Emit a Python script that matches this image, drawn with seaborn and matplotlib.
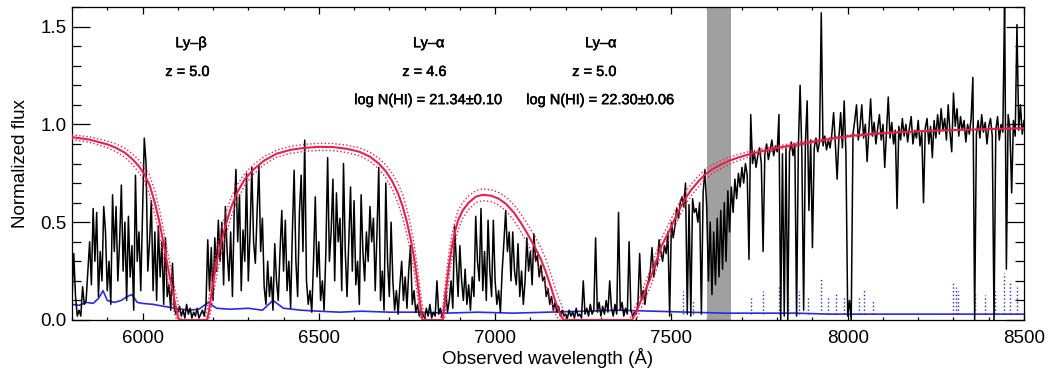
import numpy as np
import pandas as pd
import matplotlib
matplotlib.use("Agg")
import matplotlib.pyplot as plt
import matplotlib.patheffects as pe
from matplotlib.ticker import MultipleLocator, FormatStrFormatter
import seaborn as sns

# ---------------------------------------------------------------- spectrum
# Normalized flux on a 5 A grid, stored in pieces: (start wavelength, values)
flux_lyb_forest = [
    0.10, 0.34, 0.12, 0.02, 0.05, 0.02, 0.17, 0.08, 0.10, 0.25,
    0.40, 0.18, 0.57, 0.30, 0.55, 0.12, 0.35, 0.20, 0.58, 0.45,
    0.15, 0.30, 0.08, 0.64, 0.35, 0.58, 0.20, 0.40, 0.69, 0.25,
    0.50, 0.10, 0.53, 0.22, 0.38, 0.05, 0.74, 0.30, 0.45, 0.15,
    0.55, 0.93, 0.80, 0.25, 0.40, 0.61, 0.15, 0.45, 0.10, 0.48,
    0.22, 0.40, 0.08, 0.42, 0.12, 0.18, 0.05, 0.29, 0.06, 0.03]
flux_lyb_trough = [
    0.04, 0.07, 0.02, 0.05, 0.01, 0.08, 0.03, 0.06, 0.01, 0.04,
    0.02, 0.06, 0.01, 0.03, 0.05, 0.02, 0.08]
flux_forest_a = [
    0.41, 0.15, 0.37, 0.10, 0.42, 0.25, 0.51, 0.30, 0.50, 0.18,
    0.58, 0.35, 0.20, 0.45, 0.12, 0.55, 0.77, 0.40, 0.64, 0.15,
    0.46, 0.30, 0.75]
flux_forest_b = [
    0.20, 0.45, 0.78, 0.40, 0.29, 0.55, 0.79, 0.35, 0.52, 0.17,
    0.08, 0.30, 0.12, 0.22, 0.05, 0.39, 0.20, 0.10, 0.35, 0.56,
    0.25, 0.51, 0.15, 0.30, 0.06, 0.45, 0.765, 0.30, 0.12, 0.55,
    0.74, 0.35, 0.92, 0.20, 0.08, 0.15, 0.04, 0.30, 0.63, 0.22,
    0.40, 0.10, 0.20, 0.05, 0.35, 0.83, 0.30, 0.45, 0.72, 0.20,
    0.65, 0.40, 0.52, 0.15, 0.80, 0.35, 0.12, 0.40, 0.68, 0.25,
    0.61, 0.18, 0.30, 0.08, 0.64, 0.35, 0.20, 0.45, 0.30, 0.58,
    0.40, 0.52, 0.15, 0.45, 0.78, 0.10, 0.25, 0.05, 0.70, 0.30,
    0.12, 0.50, 0.20, 0.05, 0.15, 0.03, 0.18, 0.30, 0.10, 0.22,
    0.06, 0.25, 0.38, 0.08, 0.15, 0.04, 0.08, 0.02, 0.05, 0.03]
flux_dla1_core = [
    0.01, 0.06, 0.02, 0.08, 0.01, 0.04, 0.02, 0.20, 0.03, 0.06,
    0.01, 0.05]
flux_forest_c = [
    0.15, 0.04, 0.10, 0.20, 0.06, 0.48, 0.30, 0.12, 0.38, 0.20,
    0.10, 0.26, 0.08, 0.18, 0.05, 0.22, 0.12, 0.53, 0.30, 0.20,
    0.57, 0.15, 0.35, 0.10, 0.51, 0.25, 0.12, 0.51, 0.20, 0.08,
    0.15, 0.04, 0.25, 0.40, 0.56, 0.35, 0.45, 0.20, 0.45, 0.25,
    0.18, 0.39, 0.12, 0.25, 0.08, 0.20, 0.42, 0.25, 0.35, 0.18,
    0.44, 0.30, 0.33, 0.22, 0.28, 0.20, 0.22, 0.12, 0.16, 0.08,
    0.12, 0.05, 0.09, 0.04, 0.07, 0.02, 0.05, 0.02]
flux_dla2_core = [
    0.03, 0.01, 0.05, 0.02, 0.04, 0.01, 0.06, 0.02, 0.03, 0.01,
    0.20, 0.03, 0.06, 0.02, 0.08, 0.03, 0.05, 0.42, 0.04, 0.09,
    0.02, 0.07, 0.03, 0.10, 0.04, 0.20, 0.06, 0.02, 0.08, 0.03,
    0.55, 0.05, 0.09, 0.02, 0.06, 0.03, 0.40, 0.05, 0.02, 0.04]
flux_dla2_wing = [
    0.03, 0.08, 0.34, 0.10, 0.15, 0.08, 0.17, 0.20, 0.25, 0.37,
    0.22, 0.30, 0.28, 0.41, 0.35, 0.30, 0.38, 0.34, 0.45, 0.02,
    0.50, 0.42, 0.48, 0.57, 0.52, 0.60, 0.63, 0.58, 0.70, 0.03,
    0.59, 0.02, 0.62, 0.55, 0.57, 0.50, 0.60, 0.03, 0.65, 0.77]
flux_a_band = [
    0.58, 0.20, 0.50, 0.13, 0.45, 0.18, 0.52, 0.22, 0.56, 0.26,
    0.60, 0.30, 0.66, 0.45]
flux_red_a = [
    0.68, 0.55, 0.72, 0.62, 0.75, 0.68, 0.78, 0.70, 0.80, 0.74,
    0.31, 1.05]
flux_red_b = [
    0.80, 0.86, 0.78, 0.84, 0.88, 0.80, 0.35, 0.85, 0.90, 0.82,
    0.87, 0.92, 0.84, 0.89, 0.86, 1.05, 0.00, 0.85, 0.02, 0.88,
    0.00, 0.86, 0.91, 0.84, 0.90, 0.02, 0.88, 1.20, 0.85, 0.05,
    0.90, 1.12, 0.56, 0.92, 0.37, 0.88, 0.93, 0.86, 0.91, 1.57,
    0.89, 0.94, 0.87, 0.92, 0.88, 0.95, 1.06, 0.90, 0.72, 0.93,
    1.06, 0.88, 1.12, 0.85]
flux_red_c = [0.02, 0.10, 0.00]
flux_red_d = [
    0.95, 1.02, 1.10, 0.92, 0.99, 1.10, 0.93, 1.00, 0.81, 0.97,
    1.13, 0.94, 1.01, 0.90, 0.98, 1.05, 0.92, 1.00, 0.78, 0.96,
    1.14, 0.93, 1.01, 0.90, 0.97, 0.57, 0.99, 0.92, 1.03, 0.94,
    1.00, 0.91, 0.98, 1.04, 0.90, 0.97, 0.93, 1.02, 0.89, 0.96,
    0.60, 0.98, 1.03, 0.90, 0.99, 0.83, 1.02, 0.93, 1.05, 0.95,
    1.08, 0.97, 1.03, 0.92, 1.10, 0.96, 0.86, 1.16, 0.99, 1.08,
    0.94, 1.04, 0.97, 1.02, 0.91, 1.00, 0.95, 1.03, 1.24, 0.00,
    0.95, 1.02, 0.93, 1.05, 0.96, 1.01, 0.90, 0.99, 1.03, 0.94,
    0.00, 0.97, 1.04, 0.92, 1.00, 0.96, 1.65, 0.26, 1.05, 0.98,
    0.65, 1.02, 0.94, 1.51, 0.97, 1.10, 0.95, 1.02]

spectrum_pieces = [
    (5800, flux_lyb_forest), (6100, flux_lyb_trough), (6185, flux_forest_a),
    (6300, flux_forest_b), (6800, flux_dla1_core), (6860, flux_forest_c),
    (7200, flux_dla2_core), (7400, flux_dla2_wing), (7600, flux_a_band),
    (7670, flux_red_a), (7730, flux_red_b), (8000, flux_red_c),
    (8015, flux_red_d)]
PIXEL = 5.0

# ---------------------------------------------------------------- error array
err_wave = [5800, 5820, 5840, 5860, 5875, 5888, 5900, 5920, 5940, 5956,
            5970, 5985, 6000, 6030, 6060, 6095, 6130, 6160, 6186, 6210,
            6250, 6300, 6340, 6370, 6400, 6450, 6500, 6560, 6620, 6700,
            6780, 6860, 6950, 7050, 7150, 7250, 7350, 7450, 7550, 7650,
            7750, 7850, 7950, 8050, 8150, 8250, 8350, 8450, 8500]
err_flux = [0.08, 0.075, 0.09, 0.085, 0.11, 0.15, 0.10, 0.09, 0.10, 0.12,
            0.13, 0.09, 0.085, 0.08, 0.07, 0.06, 0.05, 0.055, 0.09, 0.06,
            0.055, 0.06, 0.05, 0.10, 0.06, 0.05, 0.045, 0.04, 0.045, 0.04,
            0.04, 0.035, 0.04, 0.035, 0.04, 0.045, 0.05, 0.045, 0.04, 0.035,
            0.035, 0.035, 0.03, 0.03, 0.03, 0.03, 0.03, 0.03, 0.03]
# sky-line residuals in the error array
sky_wave = [7533, 7560, 7726, 7760, 7806, 7831, 7863, 7888, 7925, 7945,
            7968, 7990, 8033, 8045, 8073, 8300, 8306, 8312, 8360, 8388,
            8417, 8442, 8459, 8479]
sky_err = [0.15, 0.10, 0.11, 0.15, 0.18, 0.13, 0.15, 0.12, 0.21, 0.12,
           0.14, 0.12, 0.12, 0.16, 0.10, 0.19, 0.17, 0.15, 0.14, 0.13,
           0.15, 0.24, 0.19, 0.17]
sky_base = 0.03

# ---------------------------------------------------------------- DLA model
# best-fit profile and the profiles for the +/-1 sigma column densities
model_wave = [
    5800, 5850, 5900, 5925, 5950, 5970, 5990, 6005, 6020, 6035,
    6048, 6060, 6072, 6083, 6093, 6100, 6104, 6110, 6177, 6183,
    6188, 6195, 6203, 6212, 6222, 6235, 6250, 6268, 6290, 6315,
    6345, 6380, 6420, 6460, 6500, 6540, 6580, 6615, 6645, 6670,
    6690, 6708, 6724, 6738, 6750, 6761, 6770, 6778, 6785, 6790,
    6794, 6800, 6803, 6843, 6851, 6856, 6862, 6870, 6878, 6886,
    6895, 6908, 6925, 6945, 6965, 6990, 7010, 7030, 7053, 7072,
    7092, 7112, 7130, 7145, 7158, 7170, 7181, 7190, 7195, 7202,
    7380, 7388, 7400, 7414, 7428, 7442, 7456, 7470, 7485, 7499,
    7513, 7527, 7541, 7556, 7575, 7593, 7615, 7641, 7665, 7689,
    7720, 7754, 7800, 7863, 7930, 8003, 8075, 8145, 8220, 8300,
    8400, 8500]
model_best = [
    0.935, 0.922, 0.898, 0.880, 0.855, 0.825, 0.785, 0.745, 0.690, 0.600,
    0.500, 0.390, 0.270, 0.170, 0.080, 0.020, 0.000, 0.000, 0.000, 0.000,
    0.040, 0.130, 0.220, 0.310, 0.390, 0.480, 0.570, 0.650, 0.720, 0.770,
    0.815, 0.850, 0.870, 0.880, 0.885, 0.884, 0.875, 0.860, 0.835, 0.800,
    0.760, 0.710, 0.650, 0.580, 0.500, 0.410, 0.320, 0.220, 0.120, 0.050,
    0.000, 0.000, 0.000, 0.000, 0.000, 0.070, 0.170, 0.290, 0.380, 0.450,
    0.510, 0.560, 0.600, 0.630, 0.640, 0.635, 0.620, 0.595, 0.550, 0.500,
    0.440, 0.375, 0.310, 0.240, 0.170, 0.100, 0.045, 0.010, 0.000, 0.000,
    0.000, 0.000, 0.040, 0.100, 0.160, 0.220, 0.295, 0.370, 0.425, 0.475,
    0.530, 0.580, 0.625, 0.665, 0.705, 0.740, 0.770, 0.795, 0.815, 0.830,
    0.847, 0.862, 0.880, 0.900, 0.920, 0.940, 0.952, 0.960, 0.966, 0.971,
    0.976, 0.980]
model_upper = [
    0.947, 0.936, 0.915, 0.900, 0.878, 0.852, 0.817, 0.781, 0.740, 0.660,
    0.565, 0.460, 0.340, 0.240, 0.145, 0.090, 0.050, 0.000, 0.000, 0.050,
    0.110, 0.200, 0.290, 0.380, 0.455, 0.540, 0.620, 0.690, 0.750, 0.795,
    0.835, 0.868, 0.888, 0.898, 0.903, 0.902, 0.894, 0.880, 0.858, 0.828,
    0.793, 0.750, 0.700, 0.640, 0.565, 0.480, 0.390, 0.290, 0.190, 0.120,
    0.070, 0.020, 0.000, 0.000, 0.050, 0.140, 0.240, 0.355, 0.440, 0.505,
    0.560, 0.600, 0.635, 0.660, 0.670, 0.665, 0.652, 0.630, 0.590, 0.545,
    0.490, 0.430, 0.370, 0.305, 0.235, 0.165, 0.110, 0.070, 0.040, 0.000,
    0.000, 0.030, 0.080, 0.140, 0.200, 0.265, 0.340, 0.410, 0.465, 0.515,
    0.568, 0.615, 0.658, 0.695, 0.733, 0.765, 0.792, 0.815, 0.833, 0.846,
    0.861, 0.874, 0.890, 0.908, 0.926, 0.945, 0.956, 0.963, 0.968, 0.973,
    0.977, 0.981]
model_lower = [
    0.923, 0.908, 0.881, 0.860, 0.832, 0.798, 0.753, 0.709, 0.640, 0.540,
    0.435, 0.320, 0.200, 0.100, 0.015, 0.000, 0.000, 0.000, 0.000, 0.000,
    0.000, 0.060, 0.150, 0.240, 0.325, 0.420, 0.520, 0.610, 0.690, 0.745,
    0.795, 0.832, 0.852, 0.862, 0.867, 0.866, 0.856, 0.840, 0.812, 0.772,
    0.727, 0.670, 0.600, 0.520, 0.435, 0.340, 0.250, 0.150, 0.050, 0.000,
    0.000, 0.000, 0.000, 0.000, 0.000, 0.000, 0.100, 0.225, 0.320, 0.395,
    0.460, 0.520, 0.565, 0.600, 0.610, 0.605, 0.588, 0.560, 0.510, 0.455,
    0.390, 0.320, 0.250, 0.175, 0.105, 0.035, 0.000, 0.000, 0.000, 0.000,
    0.000, 0.000, 0.000, 0.060, 0.120, 0.175, 0.250, 0.330, 0.385, 0.435,
    0.492, 0.545, 0.592, 0.635, 0.677, 0.715, 0.748, 0.775, 0.797, 0.814,
    0.833, 0.850, 0.870, 0.892, 0.914, 0.935, 0.948, 0.957, 0.964, 0.969,
    0.975, 0.979]

# telluric A-band
a_band = (7600, 7668)

# ---------------------------------------------------------------- labels
line_labels = ["Ly\u2013\u03b2", "Ly\u2013\u03b1", "Ly\u2013\u03b1"]
line_z = ["z = 5.0", "z = 4.6", "z = 5.0"]
line_nhi = ["", "log N(HI) = 21.34\u00b10.10", "log N(HI) = 22.30\u00b10.06"]
label_x = [6138, 6812, 7300]
label_z_x = [6128, 6800, 7282]

# ---------------------------------------------------------------- build tables
wave_parts, flux_parts = [], []
for start, vals in spectrum_pieces:
    wave_parts.append(start + PIXEL * np.arange(len(vals)))
    flux_parts.append(np.asarray(vals, dtype=float))
spec = pd.DataFrame({"wave": np.concatenate(wave_parts),
                     "flux": np.concatenate(flux_parts)})
err = pd.DataFrame({"wave": err_wave, "err": err_flux})
model = pd.DataFrame({"wave": model_wave, "best": model_best,
                      "upper": model_upper, "lower": model_lower})

# ---------------------------------------------------------------- figure
sns.set_theme(style="ticks")
plt.rcParams["font.family"] = ["Liberation Sans", "DejaVu Sans"]
plt.rcParams["text.color"] = "black"
plt.rcParams["axes.labelcolor"] = "black"

RED = "#e8204c"
BLUE = "#2a2ae6"

fig = plt.figure(figsize=(10.5, 3.74), dpi=100)
ax = fig.add_axes([72 / 1050, 54 / 374, 952 / 1050, 313 / 374])

ax.axvspan(*a_band, color="#a0a0a0", lw=0, zorder=1)

sns.lineplot(data=err, x="wave", y="err", ax=ax, color=BLUE, lw=1.2,
             estimator=None, sort=False, zorder=2)
ax.vlines(sky_wave, sky_base, sky_err, colors=BLUE, linestyles=":",
          lw=1.0, zorder=2)

sns.lineplot(data=spec, x="wave", y="flux", ax=ax, color="black", lw=1.1,
             estimator=None, sort=False, zorder=3)

for col in ["upper", "lower"]:
    sns.lineplot(data=model, x="wave", y=col, ax=ax, color=RED, lw=1.0,
                 linestyle=(0, (1, 1.6)), estimator=None, sort=False, zorder=4)
sns.lineplot(data=model, x="wave", y="best", ax=ax, color=RED, lw=1.5,
             estimator=None, sort=False, zorder=5)

heavy = [pe.withStroke(linewidth=0.35, foreground="black")]
for i in range(3):
    ax.text(label_x[i], 1.415, line_labels[i], ha="center", va="center",
            fontsize=10.5, path_effects=heavy)
    ax.text(label_z_x[i], 1.268, line_z[i], ha="center", va="center",
            fontsize=10.5, path_effects=heavy)
    if line_nhi[i]:
        ax.text(label_x[i], 1.124, line_nhi[i], ha="center", va="center",
                fontsize=10.5, path_effects=heavy)

ax.set_xlim(5800, 8500)
ax.set_ylim(0, 1.6)
ax.xaxis.set_major_locator(MultipleLocator(500))
ax.xaxis.set_minor_locator(MultipleLocator(100))
ax.yaxis.set_major_locator(MultipleLocator(0.5))
ax.yaxis.set_minor_locator(MultipleLocator(0.1))
ax.yaxis.set_major_formatter(FormatStrFormatter("%.1f"))

ax.tick_params(axis="both", which="both", direction="in", top=True,
               right=True, colors="black", width=0.9, labelsize=13.5)
ax.tick_params(axis="x", which="major", length=5, pad=7)
ax.tick_params(axis="x", which="minor", length=2.5)
ax.tick_params(axis="y", which="major", length=13, pad=4)
ax.tick_params(axis="y", which="minor", length=6.5)
for s in ax.spines.values():
    s.set_linewidth(0.9)
    s.set_color("black")

ax.set_xlabel("Observed wavelength (\u00c5)", fontsize=13.5, labelpad=1,
              color="black")
ax.set_ylabel("Normalized flux", fontsize=13.5, labelpad=8, color="black")

fig.savefig("out.png", dpi=100, facecolor="white")
